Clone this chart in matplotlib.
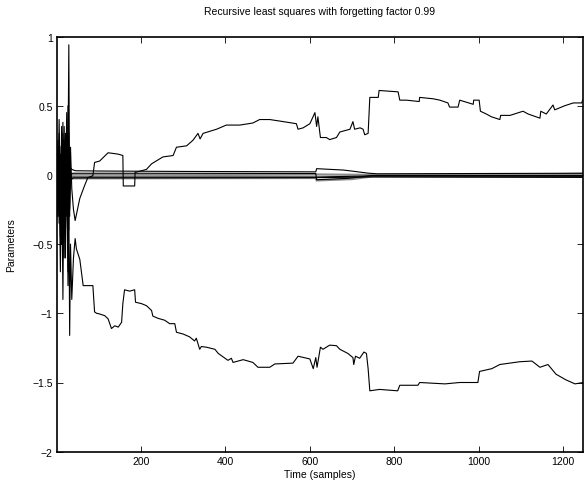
import matplotlib
matplotlib.use("Agg")
import matplotlib.pyplot as plt

plt.rcParams['font.family'] = ['Liberation Sans', 'DejaVu Sans']

# early transient samples shared by the parameter traces
t_early = [1, 3, 6, 9, 12, 15, 18, 21, 24, 27, 29, 31, 33, 36, 40]

# parameter that settles near +0.5
a1_t = t_early + [44, 55, 66, 74, 86, 90, 102, 122, 146, 157,
                  158, 185, 186, 189, 213, 225, 252, 276, 284, 308,
                  323, 335, 340, 347, 379, 402, 434, 465, 481, 505,
                  537, 568, 572, 584, 600, 612, 616, 619, 625, 639,
                  647, 663, 671, 695, 702, 706, 719, 726, 730, 738,
                  742, 762, 764, 809, 813, 829, 859, 860, 892, 908,
                  927, 931, 951, 955, 987, 988, 1001, 1004, 1018, 1030,
                  1050, 1052, 1074, 1105, 1117, 1145, 1147, 1160, 1176, 1180,
                  1204, 1224, 1244, 1246]
a1_v = [0.0, 0.12, -0.3, 0.1, -0.5, 0.38, -0.6, 0.3, -0.2, 0.1, 0.94, -0.3,
        0.2, -0.1, -0.25,
        -0.33, -0.17, -0.08, -0.02, -0.006, 0.09, 0.10, 0.16, 0.15, 0.14,
        -0.08, -0.08, 0.02, 0.02, 0.04, 0.08, 0.13, 0.14, 0.20, 0.21,
        0.25, 0.30, 0.26, 0.30, 0.33, 0.36, 0.36, 0.375, 0.40, 0.40,
        0.385, 0.37, 0.33, 0.34, 0.37, 0.45, 0.35, 0.42, 0.27, 0.27,
        0.255, 0.27, 0.31, 0.33, 0.385, 0.33, 0.34, 0.33, 0.29, 0.30,
        0.56, 0.56, 0.61, 0.60, 0.54, 0.54, 0.53, 0.56, 0.55, 0.54,
        0.52, 0.49, 0.49, 0.54, 0.51, 0.54, 0.54, 0.46, 0.44, 0.42,
        0.40, 0.43, 0.43, 0.46, 0.44, 0.41, 0.46, 0.44, 0.505, 0.47,
        0.50, 0.52, 0.52, 0.54]

# parameter that settles near -1.5
a2_t = t_early + [44, 47, 55, 63, 86, 90, 95, 102, 114, 122,
                  130, 138, 146, 154, 157, 161, 173, 185, 187, 201,
                  213, 225, 228, 240, 256, 268, 280, 284, 300, 315,
                  327, 331, 339, 343, 355, 375, 383, 406, 414, 418,
                  442, 465, 477, 505, 517, 560, 572, 600, 608, 614,
                  617, 625, 631, 647, 663, 671, 690, 702, 704, 708,
                  718, 728, 734, 738, 742, 765, 808, 813, 856, 860,
                  920, 955, 998, 1002, 1031, 1050, 1097, 1126, 1145, 1164,
                  1183, 1206, 1228, 1247]
a2_v = [0.0, -0.3, 0.05, -0.7, 0.15, -0.9, 0.25, -0.6, 0.35, -0.8, -0.2,
        -1.16, -0.5, -0.9, -0.6,
        -0.46, -0.535, -0.61, -0.80, -0.80, -0.99, -1.0, -1.005, -1.017, -1.04,
        -1.11, -1.09, -1.10, -1.065, -0.93, -0.83, -0.84, -0.83, -0.92, -0.93,
        -0.945, -0.98, -1.02, -1.036, -1.05, -1.075, -1.075, -1.137, -1.15, -1.17,
        -1.20, -1.18, -1.26, -1.24, -1.245, -1.26, -1.29, -1.34, -1.325, -1.355,
        -1.335, -1.355, -1.39, -1.39, -1.366, -1.36, -1.31, -1.33, -1.40, -1.32,
        -1.39, -1.245, -1.26, -1.23, -1.234, -1.26, -1.29, -1.32, -1.37, -1.31,
        -1.325, -1.28, -1.29, -1.40, -1.56, -1.55, -1.56, -1.52, -1.52, -1.50,
        -1.51, -1.50, -1.50, -1.42, -1.40, -1.37, -1.35, -1.345, -1.39, -1.37,
        -1.44, -1.48, -1.51, -1.50]

# parameters that stay close to zero
c1_t = t_early + [45, 100, 300, 614, 616, 680, 740, 760, 1000, 1247]
c1_v = [0.0, 0.25, -0.35, 0.15, -0.5, 0.3, -0.15, 0.2, -0.3, 0.5, -0.4,
        0.1, 0.05, 0.04, 0.035, 0.03, 0.028, 0.025, 0.022, 0.045, 0.035,
        0.012, 0.008, 0.01, 0.012]
c2_t = t_early + [45, 200, 614, 616, 690, 745, 1247]
c2_v = [0.0, -0.2, 0.3, -0.45, 0.1, -0.6, 0.35, -0.4, 0.2, -0.7, 0.2,
        -0.1, 0.0, 0.01, 0.012, 0.012, 0.012, 0.01, -0.035, -0.025, -0.005,
        -0.005]
c3_t = t_early + [45, 400, 614, 745, 1000, 1247]
c3_v = [0.0, 0.1, -0.15, 0.2, -0.3, 0.15, -0.2, 0.05, 0.1, -0.25, 0.1,
        -0.05, 0.0, 0.0, 0.002, 0.002, 0.0, 0.003, 0.0, -0.002, 0.008]
c4_t = t_early + [45, 614, 745, 1247]
c4_v = [0.0, -0.1, 0.2, -0.25, 0.35, -0.2, 0.1, -0.5, 0.3, -0.1, -0.3,
        0.05, -0.02, -0.015, -0.015, -0.015, -0.015, -0.008, -0.01]
c5_t = t_early + [45, 614, 616, 700, 750, 1247]
c5_v = [0.0, 0.15, -0.1, 0.1, -0.2, 0.25, -0.35, 0.15, -0.15, 0.2, -0.1,
        0.0, -0.03, -0.025, -0.025, -0.025, -0.022, -0.04, -0.03, -0.01,
        -0.012]
c6_t = t_early + [45, 614, 745, 1247]
c6_v = [0.0, -0.3, 0.4, -0.2, 0.25, -0.45, 0.2, -0.2, 0.45, -0.35, 0.3,
        -0.25, -0.05, -0.03, -0.022, -0.022, -0.02, -0.015, -0.018]

xticks = [200, 400, 600, 800, 1000, 1200]
yticks = [-2, -1.5, -1, -0.5, 0, 0.5, 1]
ytick_labels = ['\u22122', '\u22121.5', '\u22121', '\u22120.5', '0', '0.5', '1']

fig = plt.figure(figsize=(5.84, 4.85), dpi=100)
ax = fig.add_axes([57 / 584, 32.3 / 485, 526 / 584, 415.2 / 485])

lw = 0.8
ax.plot(c3_t, c3_v, color='0.55', lw=1.6)
ax.plot(c5_t, c5_v, color='0.55', lw=1.6)
ax.plot(c1_t, c1_v, color='k', lw=lw)
ax.plot(c2_t, c2_v, color='k', lw=lw)
ax.plot(c4_t, c4_v, color='k', lw=lw)
ax.plot(c6_t, c6_v, color='k', lw=lw)
ax.plot(a1_t, a1_v, color='k', lw=lw)
ax.plot(a2_t, a2_v, color='k', lw=lw)

ax.set_xlim(1, 1247)
ax.set_ylim(-2, 1)
ax.set_xticks(xticks)
ax.set_yticks(yticks)
ax.set_yticklabels(ytick_labels)
ax.tick_params(direction='in', top=True, right=True, length=4, width=0.6,
               labelsize=7.5, pad=3)
for sp in ax.spines.values():
    sp.set_linewidth(1.2)

ax.set_xlabel('Time (samples)', fontsize=7.5, labelpad=2)
ax.set_ylabel('Parameters', fontsize=7.5, labelpad=12)
ax.set_title('Recursive least squares with forgetting factor 0.99',
             fontsize=7.5, pad=16)

fig.savefig('out.png', dpi=100)
